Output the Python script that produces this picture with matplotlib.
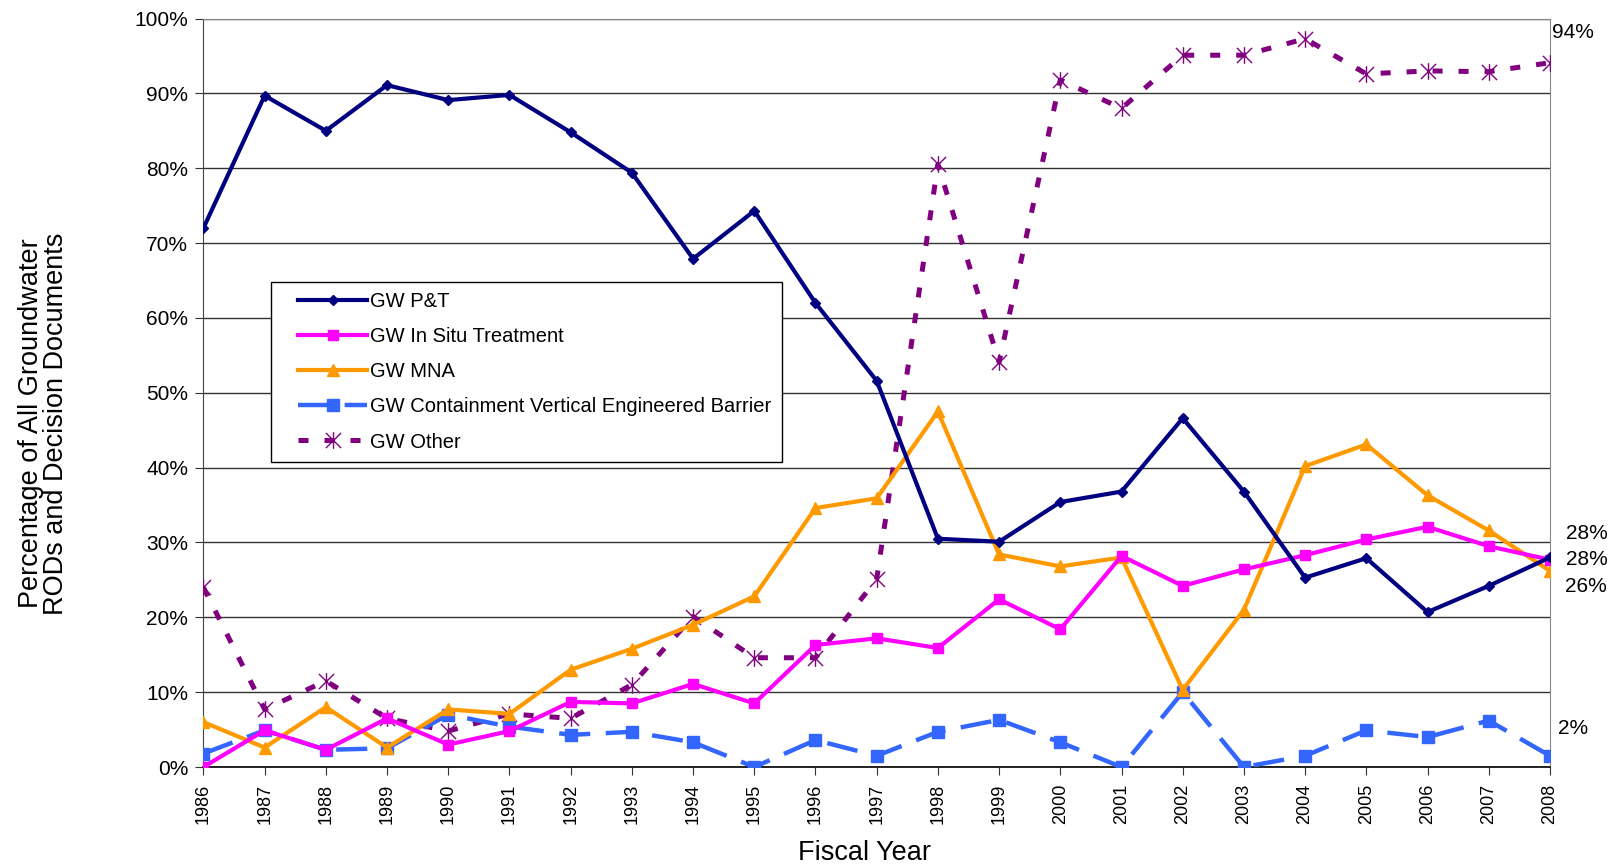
import numpy as np
import matplotlib
matplotlib.use('Agg')
import matplotlib.pyplot as plt
from matplotlib.path import Path
from matplotlib.legend_handler import HandlerLine2D

plt.rcParams['font.family'] = ['Liberation Sans', 'DejaVu Sans']

years = list(range(1986, 2009))
gw_pt = [72.0, 89.7, 85.0, 91.1, 89.1, 89.8, 84.8, 79.4, 67.9, 74.3, 62.0, 51.6,
         30.5, 30.1, 35.4, 36.8, 46.6, 36.8, 25.3, 27.9, 20.7, 24.2, 28.0]
gw_insitu = [0.0, 4.9, 2.3, 6.5, 3.0, 4.8, 8.7, 8.5, 11.1, 8.5, 16.3, 17.2,
             15.9, 22.4, 18.4, 28.2, 24.2, 26.4, 28.3, 30.4, 32.1, 29.5, 27.7]
gw_mna = [6.0, 2.6, 8.0, 2.6, 7.7, 7.1, 13.0, 15.8, 19.0, 22.8, 34.6, 35.9,
          47.5, 28.4, 26.8, 28.0, 10.3, 21.0, 40.2, 43.1, 36.3, 31.6, 26.2]
gw_veb = [1.8, 4.9, 2.3, 2.5, 7.0, 5.4, 4.3, 4.7, 3.3, 0.0, 3.6, 1.5,
          4.7, 6.3, 3.3, 0.0, 10.0, 0.0, 1.5, 4.9, 4.0, 6.2, 1.5]
gw_other = [24.0, 7.7, 11.5, 6.5, 4.8, 7.1, 6.5, 11.0, 20.1, 14.6, 14.6, 25.1,
            80.5, 54.1, 91.8, 88.0, 95.1, 95.1, 97.3, 92.6, 93.0, 92.9, 94.1]

# final-year labels (text, value they belong to)
end_labels = [("94%", 94.1), ("28%", 28.0), ("28%", 27.7), ("26%", 26.2), ("2%", 1.5)]
end_offsets = [(1.5, 22), (11.5, 17.5), (11.5, 0), (11, -11.5), (6, 19.5)]

# Excel-style star: an X with a vertical bar through it
star = Path([(-1, -1), (1, 1), (-1, 1), (1, -1), (0, -1.1), (0, 1.1)],
            [Path.MOVETO, Path.LINETO, Path.MOVETO, Path.LINETO, Path.MOVETO, Path.LINETO])

fig = plt.figure(figsize=(16.12, 8.66), dpi=100)
ax = fig.add_axes([0.1262, 0.1143, 0.8353, 0.8643])

ax.plot(years, gw_other, color='#800080', lw=3.6, dashes=(2.0, 3.2), marker=star,
        ms=12, mew=1.0, mec='#800080', label='GW Other', zorder=3)
ax.plot(years, gw_veb, color='#3366FF', lw=3.2, dashes=(7, 3.5), marker='s',
        ms=9, label='GW Containment Vertical Engineered Barrier', zorder=4)
ax.plot(years, gw_mna, color='#FF9900', lw=3, marker='^', ms=8,
        label='GW MNA', zorder=5)
ax.plot(years, gw_insitu, color='#FF00FF', lw=3, marker='s', ms=7,
        label='GW In Situ Treatment', zorder=6)
ax.plot(years, gw_pt, color='#000080', lw=3, marker='D', ms=5,
        label='GW P&T', zorder=7)

ax.set_xlim(1986, 2008)
ax.set_ylim(0, 100)
ax.set_xticks(years)
ax.set_xticklabels([str(y) for y in years], rotation=90, fontsize=13)
yt = np.arange(0, 101, 10)
ax.set_yticks(yt)
ax.set_yticklabels([f"{v}%" for v in yt], fontsize=15)
ax.yaxis.grid(True, color='#333333', lw=1)
ax.set_axisbelow(True)
ax.tick_params(axis='both', direction='out', length=6, color='#333333')
ax.tick_params(axis='x', pad=6)
ax.tick_params(axis='y', pad=5)

for side in ['top', 'right']:
    ax.spines[side].set_color('#888888')
ax.spines['left'].set_color('#444444')
ax.spines['bottom'].set_color('#000000')
ax.spines['bottom'].set_linewidth(1.2)

for (txt, v), off in zip(end_labels, end_offsets):
    ax.annotate(txt, (2008, v), xytext=off, textcoords='offset points',
                fontsize=15, va='center', ha='left', annotation_clip=False)

ax.set_xlabel('Fiscal Year', fontsize=19.5)
ax.xaxis.label.set_va('center')
ax.xaxis.set_label_coords(0.491, -0.115)
fig.text(0.0268, 0.511, 'Percentage of All Groundwater\nRODs and Decision Documents',
         rotation=90, ha='center', va='center', fontsize=19.5, linespacing=0.95)

handles, labels = ax.get_legend_handles_labels()
order = [4, 3, 2, 1, 0]
leg = ax.legend([handles[i] for i in order], [labels[i] for i in order],
                loc='upper left', bbox_to_anchor=(0.05, 0.648), fontsize=14.5,
                frameon=True, fancybox=False, edgecolor='#000000', framealpha=1,
                handlelength=4.3, handletextpad=0.15, labelspacing=0.8,
                borderpad=0.5, borderaxespad=0,
                handler_map={h: HandlerLine2D(xpad=0.85) for h in handles})
leg.get_frame().set_linewidth(1)

fig.savefig('out.png', dpi=100)
